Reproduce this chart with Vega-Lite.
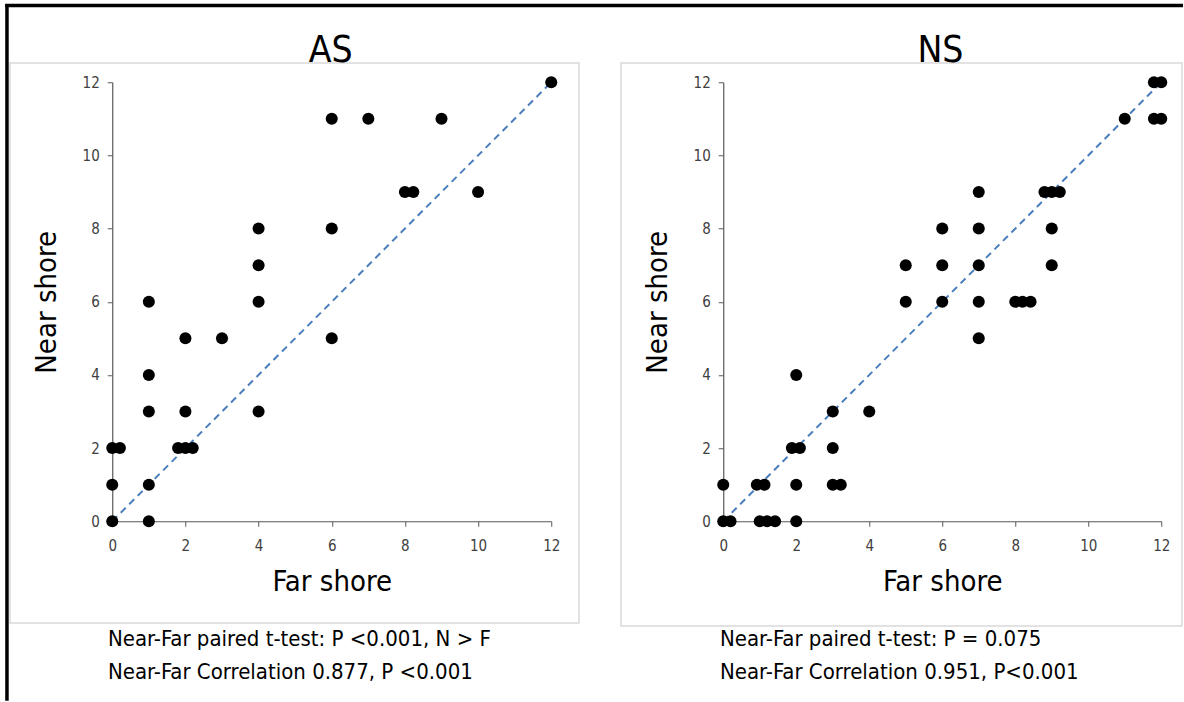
{
  "$schema": "https://vega.github.io/schema/vega-lite/v6.json",
  "padding": {"left": 3.25, "top": 1.25, "right": 0, "bottom": 0},
  "background": "white",
  "config": {
    "font": "DejaVu Sans Condensed, Liberation Sans Narrow, DejaVu Sans",
    "view": {"stroke": null},
    "axis": {
      "domainColor": "#595959",
      "domainWidth": 1.2,
      "tickColor": "#595959",
      "tickSize": 5,
      "gridColor": "#d9d9d9",
      "gridWidth": 1,
      "labelColor": "#404040",
      "labelFontSize": 15,
      "labelFont": "DejaVu Sans Condensed, Liberation Sans Narrow, DejaVu Sans",
      "titleFont": "DejaVu Sans Condensed, Liberation Sans Narrow, DejaVu Sans",
      "titleFontSize": 29,
      "titleFontWeight": "normal",
      "titleColor": "#000000",
      "labelFlush": false
    },
    "axisX": {"labelPadding": 12, "titlePadding": 14},
    "axisY": {"labelPadding": 8, "titlePadding": 21}
  },
  "datasets": {
    "AS": [
      {"far": 12, "near": 12}, {"far": 6, "near": 11}, {"far": 7, "near": 11}, {"far": 9, "near": 11},
      {"far": 8, "near": 9}, {"far": 8.23, "near": 9}, {"far": 10, "near": 9},
      {"far": 4, "near": 8}, {"far": 6, "near": 8}, {"far": 4, "near": 7},
      {"far": 1, "near": 6}, {"far": 4, "near": 6},
      {"far": 2, "near": 5}, {"far": 3, "near": 5}, {"far": 6, "near": 5},
      {"far": 1, "near": 4},
      {"far": 1, "near": 3}, {"far": 2, "near": 3}, {"far": 4, "near": 3},
      {"far": 0, "near": 2}, {"far": 0.21, "near": 2}, {"far": 1.8, "near": 2}, {"far": 2, "near": 2}, {"far": 2.2, "near": 2},
      {"far": 0, "near": 1}, {"far": 1, "near": 1},
      {"far": 0, "near": 0}, {"far": 1, "near": 0}
    ],
    "NS": [
      {"far": 11.8, "near": 12}, {"far": 12, "near": 12},
      {"far": 11, "near": 11}, {"far": 11.8, "near": 11}, {"far": 12, "near": 11},
      {"far": 7, "near": 9}, {"far": 8.8, "near": 9}, {"far": 9, "near": 9}, {"far": 9.22, "near": 9},
      {"far": 6, "near": 8}, {"far": 7, "near": 8}, {"far": 9, "near": 8},
      {"far": 5, "near": 7}, {"far": 6, "near": 7}, {"far": 7, "near": 7}, {"far": 9, "near": 7},
      {"far": 5, "near": 6}, {"far": 6, "near": 6}, {"far": 7, "near": 6}, {"far": 8, "near": 6}, {"far": 8.2, "near": 6}, {"far": 8.42, "near": 6},
      {"far": 7, "near": 5},
      {"far": 2, "near": 4},
      {"far": 3, "near": 3}, {"far": 4, "near": 3},
      {"far": 1.88, "near": 2}, {"far": 2.1, "near": 2}, {"far": 3, "near": 2},
      {"far": 0, "near": 1}, {"far": 0.92, "near": 1}, {"far": 1.13, "near": 1}, {"far": 2, "near": 1}, {"far": 3, "near": 1}, {"far": 3.22, "near": 1},
      {"far": 0, "near": 0}, {"far": 0.2, "near": 0}, {"far": 1, "near": 0}, {"far": 1.2, "near": 0}, {"far": 1.42, "near": 0}, {"far": 2, "near": 0}
    ],
    "diag": [{"far": 0, "near": 0}, {"far": 12, "near": 12}],
    "notesAS1": [{"text": "Near-Far paired t-test: P <0.001, N > F"}],
    "notesAS2": [{"text": "Near-Far Correlation 0.877, P <0.001"}],
    "notesNS1": [{"text": "Near-Far paired t-test: P = 0.075"}],
    "notesNS2": [{"text": "Near-Far Correlation  0.951, P<0.001"}],
    "titleAS": [{"text": "AS"}],
    "titleNS": [{"text": "NS"}],
    "one": [{}]
  },
  "bounds": "flush",
  "spacing": 172,
  "hconcat": [
    {
      "width": 439,
      "height": 439,
      "layer": [
        {
          "data": {"name": "one"},
          "mark": {"type": "rect", "fill": null, "stroke": "#d9d9d9", "strokeWidth": 1.5},
          "encoding": {
            "x": {"datum": -2.796}, "x2": {"datum": 12.757},
            "y": {"datum": 12.528}, "y2": {"datum": -2.78}
          }
        },
        {
          "data": {"name": "one"},
          "mark": {"type": "rule", "color": "black", "strokeWidth": 3.5},
          "encoding": {
            "x": {"datum": -2.926}, "x2": {"datum": 29.27},
            "y": {"datum": 14.1}
          }
        },
        {
          "data": {"name": "one"},
          "mark": {"type": "rule", "color": "black", "strokeWidth": 3.5},
          "encoding": {
            "x": {"datum": -2.878},
            "y": {"datum": 14.14}, "y2": {"datum": -4.91}
          }
        },
        {
          "data": {"name": "diag"},
          "mark": {"type": "line", "color": "#4a7ebb", "strokeWidth": 2, "strokeDash": [7, 5]},
          "encoding": {
            "x": {"field": "far", "type": "quantitative"},
            "y": {"field": "near", "type": "quantitative"}
          }
        },
        {
          "data": {"name": "AS"},
          "mark": {"type": "circle", "size": 145, "color": "black", "opacity": 1},
          "encoding": {
            "x": {"field": "far", "type": "quantitative", "title": "Far shore", "scale": {"domain": [0, 12], "nice": false}, "axis": {"values": [0, 2, 4, 6, 8, 10, 12]}},
            "y": {"field": "near", "type": "quantitative", "title": "Near shore", "scale": {"domain": [0, 12], "nice": false}, "axis": {"values": [0, 2, 4, 6, 8, 10, 12]}}
          }
        },
        {
          "data": {"name": "titleAS"},
          "mark": {"type": "text", "fontSize": 37, "align": "center", "baseline": "alphabetic", "color": "black"},
          "encoding": {
            "x": {"datum": 5.97}, "y": {"datum": 12.555},
            "text": {"field": "text"}
          }
        },
        {
          "data": {"name": "notesAS1"},
          "mark": {"type": "text", "fontSize": 22, "align": "left", "baseline": "middle", "color": "black"},
          "encoding": {
            "x": {"datum": -0.118}, "y": {"datum": -3.22},
            "text": {"field": "text"}
          }
        },
        {
          "data": {"name": "notesAS2"},
          "mark": {"type": "text", "fontSize": 22, "align": "left", "baseline": "middle", "color": "black"},
          "encoding": {
            "x": {"datum": -0.118}, "y": {"datum": -4.12},
            "text": {"field": "text"}
          }
        }
      ]
    },
    {
      "width": 438,
      "height": 439,
      "layer": [
        {
          "data": {"name": "one"},
          "mark": {"type": "rect", "fill": null, "stroke": "#d9d9d9", "strokeWidth": 1.5},
          "encoding": {
            "x": {"datum": -2.803}, "x2": {"datum": 12.567},
            "y": {"datum": 12.528}, "y2": {"datum": -2.862}
          }
        },
        {
          "data": {"name": "diag"},
          "mark": {"type": "line", "color": "#4a7ebb", "strokeWidth": 2, "strokeDash": [7, 5]},
          "encoding": {
            "x": {"field": "far", "type": "quantitative"},
            "y": {"field": "near", "type": "quantitative"}
          }
        },
        {
          "data": {"name": "NS"},
          "mark": {"type": "circle", "size": 145, "color": "black", "opacity": 1},
          "encoding": {
            "x": {"field": "far", "type": "quantitative", "title": "Far shore", "scale": {"domain": [0, 12], "nice": false}, "axis": {"values": [0, 2, 4, 6, 8, 10, 12]}},
            "y": {"field": "near", "type": "quantitative", "title": "Near shore", "scale": {"domain": [0, 12], "nice": false}, "axis": {"values": [0, 2, 4, 6, 8, 10, 12]}}
          }
        },
        {
          "data": {"name": "titleNS"},
          "mark": {"type": "text", "fontSize": 37, "align": "center", "baseline": "alphabetic", "color": "black"},
          "encoding": {
            "x": {"datum": 5.95}, "y": {"datum": 12.555},
            "text": {"field": "text"}
          }
        },
        {
          "data": {"name": "notesNS1"},
          "mark": {"type": "text", "fontSize": 22, "align": "left", "baseline": "middle", "color": "black"},
          "encoding": {
            "x": {"datum": -0.09}, "y": {"datum": -3.22},
            "text": {"field": "text"}
          }
        },
        {
          "data": {"name": "notesNS2"},
          "mark": {"type": "text", "fontSize": 22, "align": "left", "baseline": "middle", "color": "black"},
          "encoding": {
            "x": {"datum": -0.09}, "y": {"datum": -4.12},
            "text": {"field": "text"}
          }
        }
      ]
    }
  ]
}
